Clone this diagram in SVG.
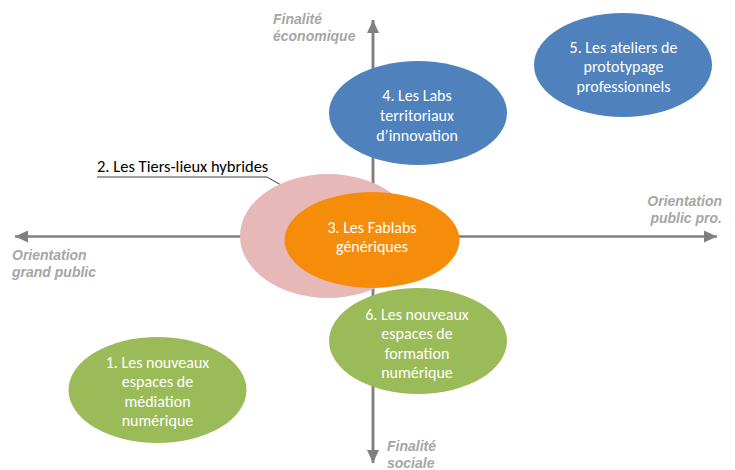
<svg xmlns="http://www.w3.org/2000/svg" width="735" height="470" viewBox="0 0 735 470">
<style>
.axis{stroke:#808080;stroke-width:2.5;fill:none}
.ax{font-family:"Liberation Sans",Arial,sans-serif;font-weight:bold;font-style:italic;font-size:14px;fill:#a6a6a6}
.nt{font-family:Carlito,"Liberation Sans",Arial,sans-serif;font-size:16px;fill:#ffffff;text-anchor:middle}
.lb{font-family:Carlito,"Liberation Sans",Arial,sans-serif;font-size:16.5px;fill:#000000}
.blue{fill:#4f81bd}
.green{fill:#9bbb59}
</style>
<defs>
<marker id="ah" markerUnits="userSpaceOnUse" markerWidth="14" markerHeight="12" refX="13" refY="6" orient="auto">
<path d="M0,0 L13,6 L0,12 Z" fill="#808080"/>
</marker>
<marker id="sm" markerUnits="userSpaceOnUse" markerWidth="8" markerHeight="7" refX="7" refY="3.5" orient="auto">
<path d="M0,0 L7,3.5 L0,7 Z" fill="#404040"/>
</marker>
</defs>
<g id="connectors">
<line class="axis" x1="373" y1="463" x2="373" y2="20" marker-end="url(#ah)"/>
<line class="axis" x1="373" y1="20" x2="373" y2="463" marker-end="url(#ah)"/>
<line class="axis" x1="370" y1="236.5" x2="717" y2="236.5" marker-end="url(#ah)"/>
<line class="axis" x1="376" y1="236.5" x2="15" y2="236.5" marker-end="url(#ah)"/>
<polyline points="97,177 267,177 295,193" fill="none" stroke="#404040" stroke-width="1" marker-end="url(#sm)"/>
</g>
<g id="axis-labels">
<text class="ax" x="273" y="24">Finalité</text>
<text class="ax" x="273" y="41">économique</text>
<text class="ax" x="722" y="206" text-anchor="end">Orientation</text>
<text class="ax" x="722" y="223" text-anchor="end">public pro.</text>
<text class="ax" x="12" y="260">Orientation</text>
<text class="ax" x="12" y="277">grand public</text>
<text class="ax" x="387" y="451">Finalité</text>
<text class="ax" x="387" y="468">sociale</text>
</g>
<g id="node2">
<ellipse cx="328" cy="236" rx="88" ry="62" fill="#e6b9b8"/>
<text class="lb" x="97" y="172">2. Les Tiers-lieux hybrides</text>
</g>
<g id="node3">
<ellipse cx="372" cy="240" rx="87.5" ry="48" fill="#f68d0a"/>
<text class="nt" x="372" y="232.5">3. Les Fablabs</text>
<text class="nt" x="372" y="252">génériques</text>
</g>
<g id="node4">
<ellipse class="blue" cx="418" cy="113" rx="89" ry="52"/>
<text class="nt" x="417" y="100.5">4. Les Labs</text>
<text class="nt" x="417" y="120.5">territoriaux</text>
<text class="nt" x="417" y="140.5">d’innovation</text>
</g>
<g id="node5">
<ellipse class="blue" cx="623" cy="65" rx="89" ry="52"/>
<text class="nt" x="623.5" y="52.5">5. Les ateliers de</text>
<text class="nt" x="623.5" y="72">prototypage</text>
<text class="nt" x="623.5" y="91.5">professionnels</text>
</g>
<g id="node6">
<ellipse class="green" cx="418" cy="341" rx="89" ry="53"/>
<text class="nt" x="417" y="319.5">6. Les nouveaux</text>
<text class="nt" x="417" y="339">espaces de</text>
<text class="nt" x="417" y="358.5">formation</text>
<text class="nt" x="417" y="378">numérique</text>
</g>
<g id="node1">
<ellipse class="green" cx="157.5" cy="390" rx="89" ry="53"/>
<text class="nt" x="157.5" y="367.5">1. Les nouveaux</text>
<text class="nt" x="157.5" y="387">espaces de</text>
<text class="nt" x="157.5" y="406.5">médiation</text>
<text class="nt" x="157.5" y="426">numérique</text>
</g>
</svg>
